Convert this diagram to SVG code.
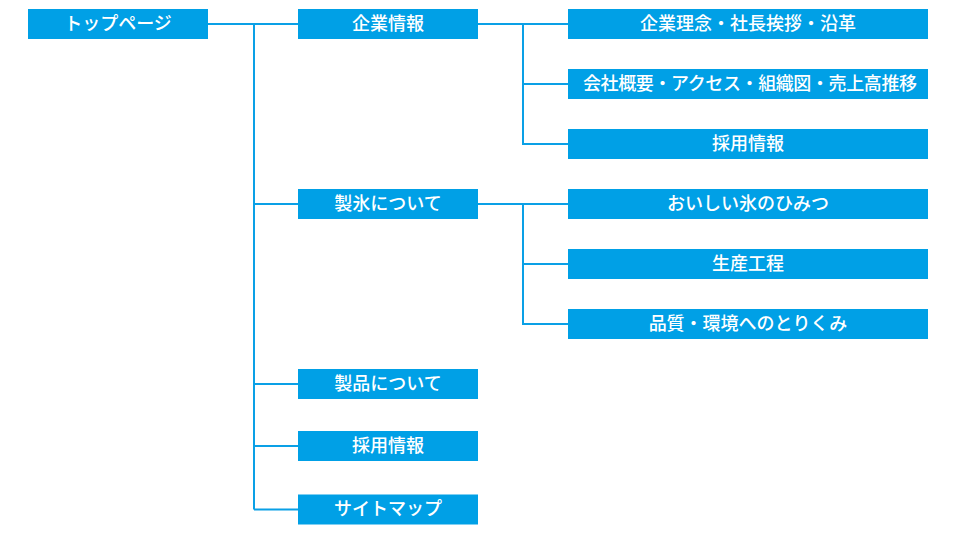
<svg xmlns="http://www.w3.org/2000/svg" width="960" height="540" viewBox="0 0 960 540">
<style>
.box{fill:#00a0e6}
.lbl{fill:#ffffff;font-family:"Noto Sans CJK JP","Noto Sans",sans-serif;font-size:18px;font-weight:500;text-anchor:middle}
.conn{stroke:#0aa0e6;stroke-width:2;fill:none}
</style>
<rect width="960" height="540" fill="#ffffff"/>
<g id="connectors">
<path class="conn" d="M208,24 H298 M254,24 V509.5 M254,204 H298 M254,384 H298 M254,446 H298 M254,509.5 H298"/>
<path class="conn" d="M478,24 H568 M523,24 V144 H568 M523,84 H568"/>
<path class="conn" d="M478,204 H568 M523,204 V324 H568 M523,264 H568"/>
</g>
<g id="top"><rect class="box" x="28" y="9" width="180" height="30"/><text class="lbl" x="118" y="29.5">トップページ</text></g>
<g id="kigyo"><rect class="box" x="298" y="9" width="180" height="30"/><text class="lbl" x="388" y="29.5">企業情報</text></g>
<g id="seihyo"><rect class="box" x="298" y="189" width="180" height="30"/><text class="lbl" x="388" y="209.5">製氷について</text></g>
<g id="seihin"><rect class="box" x="298" y="369" width="180" height="30"/><text class="lbl" x="388" y="389.5">製品について</text></g>
<g id="saiyo"><rect class="box" x="298" y="431" width="180" height="30"/><text class="lbl" x="388" y="451.5">採用情報</text></g>
<g id="sitemap"><rect class="box" x="298" y="494.5" width="180" height="30"/><text class="lbl" x="388" y="515">サイトマップ</text></g>
<g id="rinen"><rect class="box" x="568" y="9" width="360" height="30"/><text class="lbl" x="748" y="29.5">企業理念・社長挨拶・沿革</text></g>
<g id="gaiyo"><rect class="box" x="568" y="69" width="360" height="30"/><text class="lbl" x="750" y="89.5" textLength="334" lengthAdjust="spacing">会社概要・アクセス・組織図・売上高推移</text></g>
<g id="saiyo2"><rect class="box" x="568" y="129" width="360" height="30"/><text class="lbl" x="748" y="149.5">採用情報</text></g>
<g id="himitsu"><rect class="box" x="568" y="189" width="360" height="30"/><text class="lbl" x="748" y="209.5">おいしい氷のひみつ</text></g>
<g id="kotei"><rect class="box" x="568" y="249" width="360" height="30"/><text class="lbl" x="748" y="269.5">生産工程</text></g>
<g id="hinshitsu"><rect class="box" x="568" y="309" width="360" height="30"/><text class="lbl" x="748" y="329.5">品質・環境へのとりくみ</text></g>
</svg>
